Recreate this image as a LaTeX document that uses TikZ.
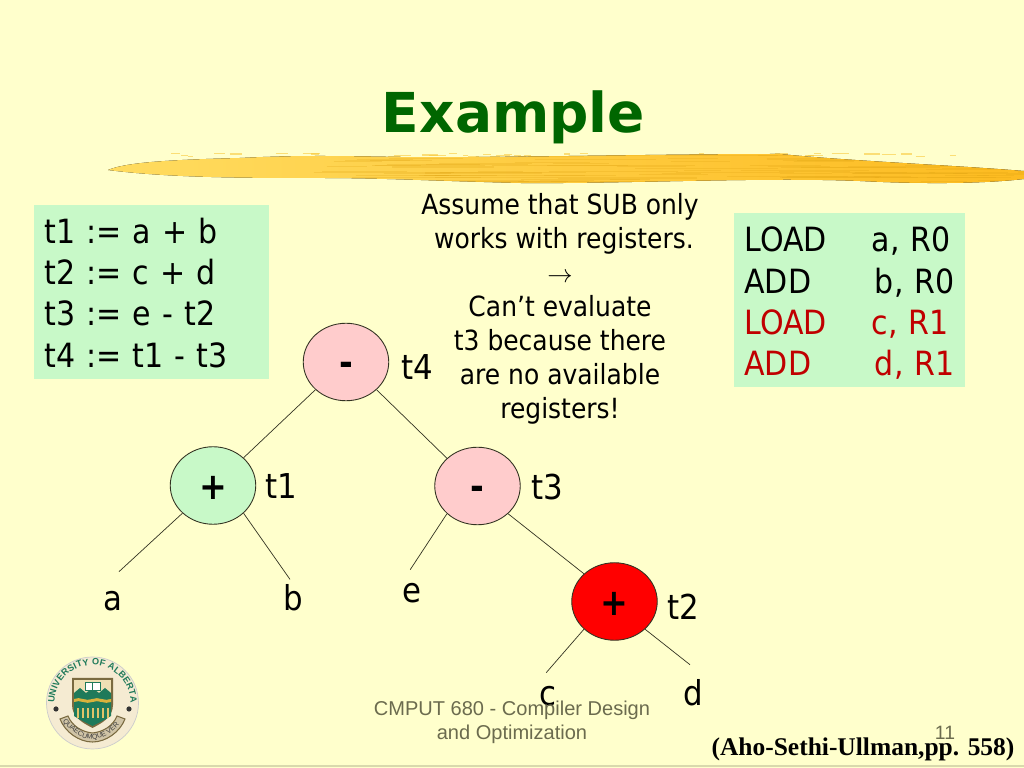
\documentclass[tikz,border=0pt]{standalone}
\usepackage{fontspec}
\usepackage{amsmath}
\setmainfont{DejaVu Sans}[FakeStretch=0.9]
\newfontfamily\titlefont{DejaVu Sans}
\newfontfamily\arialfont{Liberation Sans}
\newfontfamily\timesfont{Liberation Serif}
\usetikzlibrary{positioning,shapes.geometric,decorations.text}
\definecolor{slidebg}{HTML}{FFFFCC}
\definecolor{boxgreen}{HTML}{C8F9C8}
\definecolor{nodepink}{HTML}{FFCCCC}
\definecolor{titlegreen}{HTML}{006600}
\definecolor{footgray}{HTML}{6B6B4E}
\definecolor{loadred}{HTML}{C00000}
\definecolor{edgedark}{HTML}{333322}
\definecolor{brushA}{HTML}{FFDC60}
\definecolor{brushB}{HTML}{F9C93C}
\definecolor{brushC}{HTML}{FDBB20}
\definecolor{brushD}{HTML}{E0A412}
\definecolor{sealcream}{HTML}{F5EBD2}
\definecolor{sealgreen}{HTML}{1F7A5A}
\definecolor{sealgold}{HTML}{D9B23C}
\definecolor{sealbrown}{HTML}{7A6A40}

\begin{document}
\begin{tikzpicture}[
    x=.2mm, y=-.2mm,
    exprnode/.style={ellipse, draw=edgedark, line width=.5pt, minimum width=1.71cm, minimum height=1.55cm, inner sep=0pt,
        text height=15.5pt, text depth=0pt, font=\bfseries\fontsize{21}{24}\selectfont},
    leaf/.style={inner sep=0pt, minimum height=.84cm, text height=13pt, text depth=0pt, font=\fontsize{19.5}{22}\selectfont},
    tlabel/.style={inner sep=0pt, text height=13pt, text depth=0pt, font=\fontsize{19.5}{22}\selectfont},
    codebox/.style={fill=boxgreen, align=left, anchor=north west, inner sep=0pt, font=\fontsize{19}{23.5}\selectfont},
    edge/.style={draw=edgedark, line width=.4pt}
]

% Background
\fill[slidebg] (0,0) rectangle (1024,768);
\useasboundingbox (0,0) rectangle (1024,768);
\draw[black!15!slidebg, line width=.6pt] (0,766) -- (1024,766);

% Title and brush stroke
\node[inner sep=0pt, anchor=base, text=titlegreen, font=\titlefont\bfseries\fontsize{31.3}{36}\selectfont] (title) at (513.5,133) {Example};
\pgfmathsetseed{680}
\foreach \i in {1,...,40} {
    \pgfmathsetmacro{\sx}{170+800*rnd}
    \pgfmathsetmacro{\sy}{153+4*rnd}
    \pgfmathsetmacro{\sl}{4+14*rnd}
    \draw[brushB, opacity=.6, line width=.7pt] (\sx,\sy) -- ++(\sl,0);
}
\begin{scope}
\clip (108,170) .. controls (125,163) and (160,160) .. (240,158) .. controls (300,155) and (340,156) .. (400,157)
    .. controls (500,158) and (650,154) .. (780,154) .. controls (850,161) and (950,165) .. (1024,171)
    -- (1024,179) .. controls (980,184) and (920,184) .. (860,181) .. controls (760,177) and (620,184) .. (520,183)
    .. controls (440,181) and (380,178) .. (320,178) .. controls (250,178) and (170,178) .. (108,170) -- cycle;
\fill[left color=brushA, middle color=brushB, right color=brushC] (100,150) rectangle (1024,190);
\foreach \i in {1,...,110} {
    \pgfmathsetmacro{\sx}{300+720*rnd}
    \pgfmathsetmacro{\sy}{155+28*rnd}
    \pgfmathsetmacro{\sl}{30+120*rnd}
    \draw[brushD, opacity=.25, line width=.6pt] (\sx,\sy) -- ++(\sl,0);
}
\end{scope}

% Code boxes
\node[codebox, minimum width=4.7cm, minimum height=3.48cm, text width=4.3cm, inner xsep=.2cm] (tacbox) at (34,205)
    {\rule{0pt}{15pt}t1 := a + b\\ t2 := c + d\\ t3 := e - t2\\ t4 := t1 - t3};
\node[codebox, minimum width=4.62cm, minimum height=3.48cm, text width=4.22cm, inner xsep=.2cm] (asmbox) at (734,213)
    {\rule{0pt}{17.5pt}LOAD\hspace{25.5pt}a,~R0\\ ADD\hspace{36.3pt}b,~R0\\ \textcolor{loadred}{LOAD\hspace{25.5pt}c,~R1}\\ \textcolor{loadred}{ADD\hspace{36.3pt}d,~R1}};

% Note
\node[align=center, inner sep=0pt, anchor=north, font=\fontsize{15.8}{19.35}\selectfont] (note) at (560,193.5)
    {Assume that SUB only\\ \hspace*{4.5pt}works with registers.\\ $\rightarrow$\\ Can't evaluate\\ t3 because there\\ are no available\\ registers!};

% Nodes
\node[exprnode, fill=nodepink] (root) at (346,362) {-};
\node[exprnode, fill=boxgreen] (plusA) at (213,485.5) {+};
\node[exprnode, fill=nodepink] (minus) at (477.5,486) {-};
\node[exprnode, fill=red] (plusB) at (614.5,601.5) {+};

% Leaves
\node[leaf] (a) at (113,599) {a};
\node[leaf] (b) at (293,599) {b};
\node[leaf] (e) at (412,591) {e};
\node[leaf] (c) at (548,694) {c};
\node[leaf] (d) at (693,694) {d};

% Temporaries
\node[tlabel, right=.24cm of root, yshift=-3.5pt] (tfour) {t4};
\node[tlabel, right=.18cm of plusA, yshift=-1pt] (tone) {t1};
\node[tlabel, right=.2cm of minus, yshift=-1pt] (tthree) {t3};
\node[tlabel, right=.18cm of plusB, yshift=-3.5pt] (ttwo) {t2};

% Edges
\draw[edge] (root.south west) -- (plusA.north east);
\draw[edge] (root.south east) -- (minus.north west);
\draw[edge] (plusA.south west) -- ([xshift=3.4pt,yshift=3.4pt]a.north);
\draw[edge] (plusA.south east) -- ([xshift=-1.7pt,yshift=-1pt]b.north);
\draw[edge] (minus.south west) -- ([xshift=-1pt]e.north);
\draw[edge] (minus.south east) -- (plusB.north west);
\draw[edge] (plusB.south west) -- ([xshift=-1pt]c.north);
\draw[edge] (plusB.south east) -- ([xshift=-1.7pt,yshift=4.5pt]d.north);

% Footer
\node[align=center, inner sep=0pt, text=footgray, font=\arialfont\fontsize{11.4}{13.6}\selectfont] (footer) at (512,722)
    {CMPUT 680 - Compiler Design\\ and Optimization};
\node[inner sep=0pt, text=footgray, font=\arialfont\fontsize{11}{13}\selectfont] (page) at (945,733) {11};
\node[inner sep=0pt, font=\timesfont\bfseries\fontsize{14.5}{17}\selectfont] (source) at (863,749) {(Aho-Sethi-Ullman,pp. 558)};

% Seal
\fill[sealcream, draw=black!20] (92.5,703) circle (46);
\path[decorate, decoration={text along path, text align=fit to path,
    text={|\arialfont\bfseries\fontsize{5.2}{6}\selectfont\color{sealgreen}|UNIVERSITY OF ALBERTA}}]
    (54.5,703) arc (180:360:38);
\fill[sealbrown] (72,678) -- (113,678) -- (113,705) .. controls (113,718) and (100,724) .. (92.5,728) .. controls (85,724) and (72,718) .. (72,705) -- cycle;
\fill[sealcream!80!sealgold] (74,680) rectangle (111,693);
\fill[sealgreen] (74,693) -- (80,688) -- (86,693) -- (92.5,688) -- (99,693) -- (105,688) -- (111,693) -- (111,716) .. controls (105,720) and (98,723) .. (92.5,726) .. controls (87,723) and (80,720) .. (74,716) -- cycle;
\fill[sealgold] (74,699) .. controls (80,696) and (86,702) .. (92.5,699) .. controls (98,696) and (105,702) .. (111,699) -- (111,702) .. controls (105,705) and (98,699) .. (92.5,702) .. controls (86,705) and (80,699) .. (74,702) -- cycle;
\foreach \sx in {78,83,88,93,98,103,108}
    \draw[sealgold!70!sealcream, line width=1pt] (\sx,708) -- (\sx,718);
\fill[white, draw=sealgreen, line width=.3pt] (85,682) rectangle (100,690);
\draw[sealgreen, line width=.3pt] (92.5,682) -- (92.5,690);
\fill[black!80] (56,709) circle (2.6);
\fill[black!80] (129,709) circle (2.6);
\fill[sealcream!70!sealbrown, draw=sealbrown, line width=.6pt] (60,719) -- (68,716) .. controls (72,726) and (82,732) .. (92.5,733) .. controls (103,732) and (113,726) .. (117,716) -- (125,719)
    .. controls (120,732) and (106,742) .. (92.5,742) .. controls (79,742) and (65,732) .. (60,719) -- cycle;
\path[decorate, decoration={text along path, text align=center,
    text={|\arialfont\fontsize{4}{5}\selectfont\color{black!75}|QUAECUMQUE VERA}}]
    (66,725) .. controls (74,734) and (84,739.5) .. (92.5,739.5) .. controls (101,739.5) and (111,734) .. (119,725);
\end{tikzpicture}
\end{document}
